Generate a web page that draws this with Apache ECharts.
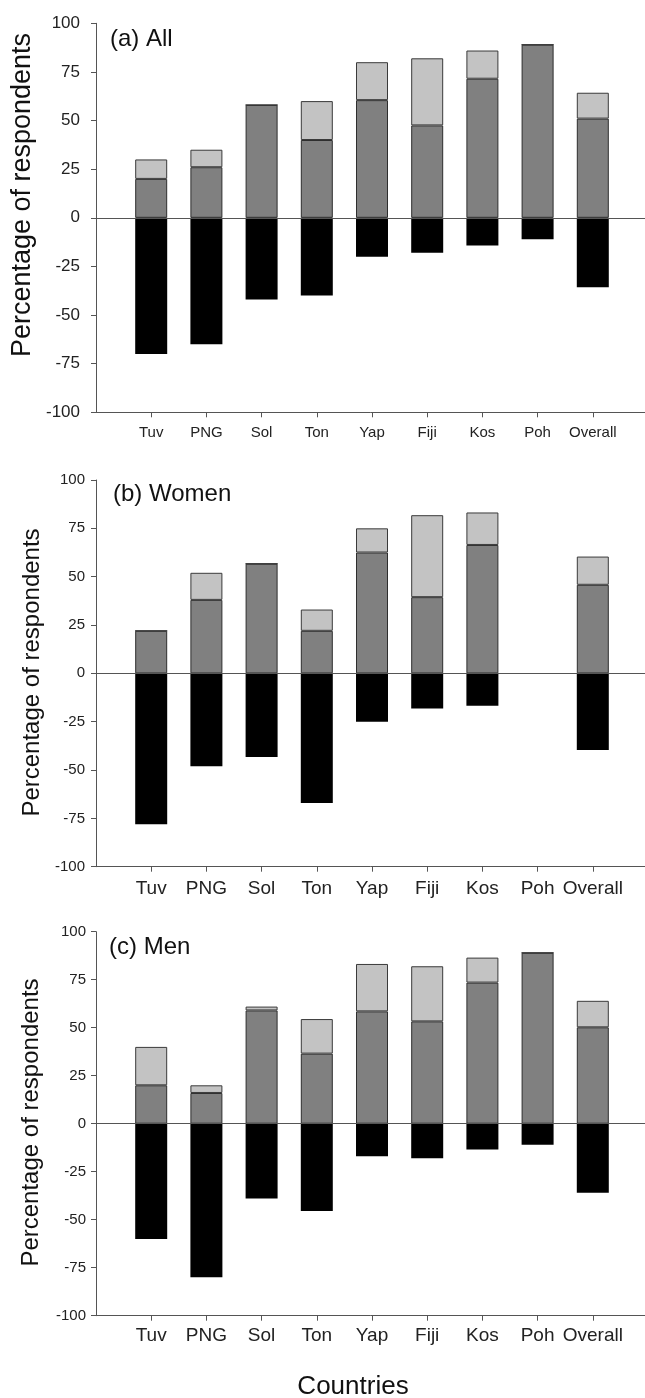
<!DOCTYPE html>
<html>
<head>
<meta charset="utf-8">
<script src="https://cdn.jsdelivr.net/npm/echarts@6.0.0/dist/echarts.min.js"></script>
<style>
html,body{margin:0;padding:0;background:#fff;}
#chart{width:645px;height:1398px;}
</style>
</head>
<body>
<div id="chart"></div>
<script>
// ---- data ----
var categories = ['Tuv', 'PNG', 'Sol', 'Ton', 'Yap', 'Fiji', 'Kos', 'Poh', 'Overall'];
var yTicks = [-100, -75, -50, -25, 0, 25, 50, 75, 100];

// (a) All
var allDark  = [20, 26, 58, 40, 60.5, 47.5, 71.5, 89, 51];
var allLight = [10, 9, 0, 20, 19.5, 34.5, 14.5, 0, 13.3];
var allBlack = [-70, -65, -42, -40, -20, -18, -14.3, -11, -35.7];

// (b) Women  ('-' = no data for Poh)
var womenDark  = [22, 38, 56.7, 22, 62.5, 39.4, 66.4, '-', 45.8];
var womenLight = [0, 14, 0, 11, 12.5, 42.4, 16.8, '-', 14.6];
var womenBlack = [-78, -48, -43.3, -67, -25, -18.2, -16.8, '-', -39.6];

// (c) Men
var menDark  = [20, 16, 59, 36.5, 58.5, 53.3, 73.5, 89, 50.2];
var menLight = [20, 4, 2, 18, 24.7, 28.7, 13, 0, 13.8];
var menBlack = [-60, -80, -39, -45.5, -17, -18, -13.5, -11, -36];

var panelTitles = ['(a) All', '(b) Women', '(c) Men'];
var yTitle = 'Percentage of respondents';
var xTitle = 'Countries';

// ---- build ----
var FONT = '"Liberation Sans", Arial, sans-serif';
function pad(arr) { return ['-'].concat(arr, ['-']); }
var cats = [''].concat(categories, ['']);

var panels = [
  {dark: allDark, light: allLight, black: allBlack, top: 23.3, height: 389, yFont: 17, xFont: 15, yMargin: 16, xMargin: 13},
  {dark: womenDark, light: womenLight, black: womenBlack, top: 480, height: 386.7, yFont: 15, xFont: 19, yMargin: 11, xMargin: 13},
  {dark: menDark, light: menLight, black: menBlack, top: 931.7, height: 384, yFont: 15, xFont: 19, yMargin: 10, xMargin: 11}
];

var grids = [], xAxes = [], yAxes = [], series = [];
panels.forEach(function (p, i) {
  grids.push({left: 96, width: 552, top: p.top, height: p.height, outerBoundsMode: 'none', containLabel: false});
  xAxes.push({
    type: 'category', gridIndex: i, data: cats, boundaryGap: false, position: 'bottom',
    axisLine: {show: true, onZero: false, lineStyle: {color: '#555', width: 1}},
    axisTick: {show: true, length: 5, lineStyle: {color: '#555'}, interval: function (idx) { return idx > 0 && idx < cats.length - 1; }},
    axisLabel: {show: true, interval: 0, margin: p.xMargin, color: '#222', fontSize: p.xFont, fontFamily: FONT},
    splitLine: {show: false}
  });
  yAxes.push({
    type: 'value', gridIndex: i, min: yTicks[0], max: yTicks[yTicks.length - 1], interval: 25,
    axisLine: {show: true, onZero: false, lineStyle: {color: '#555', width: 1}},
    axisTick: {show: true, length: 5, lineStyle: {color: '#555'}},
    axisLabel: {margin: p.yMargin, color: '#222', fontSize: p.yFont, fontFamily: FONT},
    splitLine: {show: false}
  });
  var stackName = 's' + i;
  series.push({
    type: 'bar', name: 'dark' + i, xAxisIndex: i, yAxisIndex: i, stack: stackName, barWidth: 32,
    data: pad(p.dark),
    itemStyle: {color: '#808080', borderColor: '#2e2e2e', borderWidth: 1}
  });
  series.push({
    type: 'bar', name: 'light' + i, xAxisIndex: i, yAxisIndex: i, stack: stackName, barWidth: 32,
    data: pad(p.light),
    itemStyle: {color: '#c3c3c3', borderColor: '#3a3a3a', borderWidth: 1}
  });
  series.push({
    type: 'bar', name: 'black' + i, xAxisIndex: i, yAxisIndex: i, stack: stackName, barWidth: 32,
    data: pad(p.black),
    itemStyle: {color: '#000000', borderColor: '#000', borderWidth: 0},
    markLine: {
      silent: true, symbol: ['none', 'none'], label: {show: false},
      lineStyle: {color: '#555', width: 1, type: 'solid'},
      data: [{yAxis: 0}], animation: false
    }
  });
});

var graphics = [
  {type: 'text', x: 110, y: 39, style: {text: panelTitles[0], font: '24px ' + FONT, fill: '#111', align: 'left', verticalAlign: 'middle'}},
  {type: 'text', x: 113, y: 494, style: {text: panelTitles[1], font: '24px ' + FONT, fill: '#111', align: 'left', verticalAlign: 'middle'}},
  {type: 'text', x: 109, y: 947, style: {text: panelTitles[2], font: '24px ' + FONT, fill: '#111', align: 'left', verticalAlign: 'middle'}},
  {type: 'text', x: 23, y: 195, rotation: Math.PI / 2, style: {text: yTitle, font: '27px ' + FONT, fill: '#111', align: 'center', verticalAlign: 'middle'}},
  {type: 'text', x: 32, y: 672.5, rotation: Math.PI / 2, style: {text: yTitle, font: '24px ' + FONT, fill: '#111', align: 'center', verticalAlign: 'middle'}},
  {type: 'text', x: 31, y: 1122.5, rotation: Math.PI / 2, style: {text: yTitle, font: '24px ' + FONT, fill: '#111', align: 'center', verticalAlign: 'middle'}},
  {type: 'text', x: 353, y: 1387, style: {text: xTitle, font: '26px ' + FONT, fill: '#111', align: 'center', verticalAlign: 'middle'}}
];

var chart = echarts.init(document.getElementById('chart'), null, {renderer: 'canvas'});
chart.setOption({
  animation: false,
  backgroundColor: '#ffffff',
  grid: grids,
  xAxis: xAxes,
  yAxis: yAxes,
  series: series,
  graphic: graphics
});
</script>
</body>
</html>
